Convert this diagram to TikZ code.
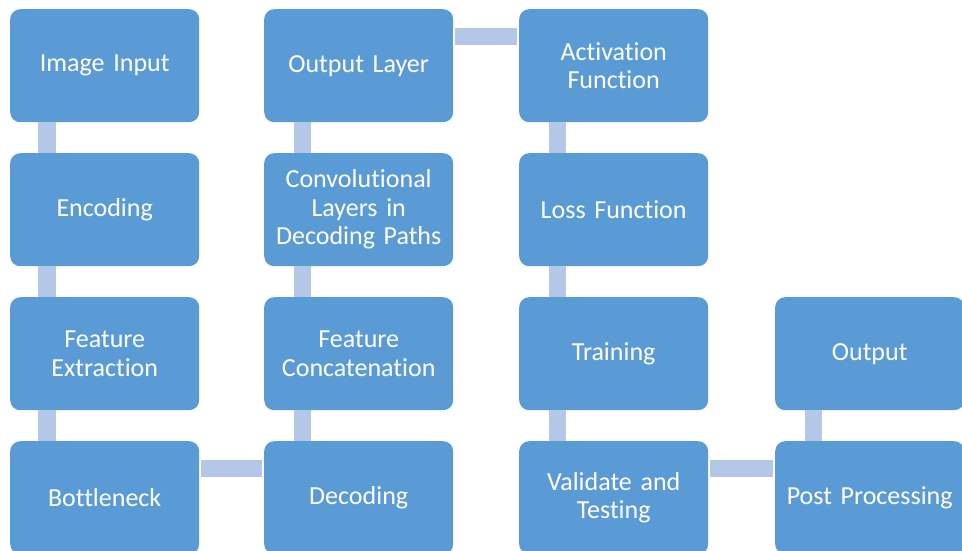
\documentclass[tikz,border=0pt]{standalone}
\usepackage{fontspec}
\setmainfont{Carlito}[Ligatures=NoCommon]
\definecolor{boxblue}{HTML}{5B9BD5}
\definecolor{linkblue}{HTML}{B4C7E7}
\begin{document}
\begin{tikzpicture}[x=1pt,y=-1pt,
  stage/.style={fill=boxblue, rounded corners=10pt, anchor=north west,
    inner sep=0pt, text width=189pt, minimum height=113pt, align=center,
    text=white, font=\fontsize{26}{28.5}\selectfont},
  link/.style={draw=linkblue, line width=17.5pt}]
\useasboundingbox (0,0) rectangle (962,551);

% column 1
\node[stage] (img)  at (10,9)   {Image Input};
\node[stage] (enc)  at (10,153) {Encoding};
\node[stage] (feat) at (10,297) {Feature\\Extraction};
\node[stage] (bott) at (10,441) {Bottleneck};
% column 2
\node[stage] (out)  at (264,9)   {Output Layer};
\node[stage] (conv) at (264,153) {Convolutional\\Layers in\\Decoding Paths};
\node[stage] (cat)  at (264,297) {Feature\\Concatenation};
\node[stage] (dec)  at (264,441) {Decoding};
% column 3
\node[stage] (act)  at (519,9)   {Activation\\Function};
\node[stage] (loss) at (519,153) {Loss Function};
\node[stage] (train) at (519,297) {Training};
\node[stage] (val)  at (519,441) {Validate and\\Testing};
% column 4
\node[stage] (res)  at (775,297) {Output};
\node[stage] (post) at (775,441) {Post Processing};

% vertical links
\foreach \a/\b in {img/enc, enc/feat, feat/bott} {
  \draw[link] ([xshift=37pt]\a.south west) -- ([xshift=37pt]\b.north west);
}
\foreach \a/\b in {out/conv, conv/cat, cat/dec, act/loss, loss/train, train/val, res/post} {
  \draw[link] ([xshift=38.5pt]\a.south west) -- ([xshift=38.5pt]\b.north west);
}
% horizontal links
\foreach \a/\b in {bott/dec, out/act, val/post} {
  \draw[link] ([xshift=2pt,yshift=-27.5pt]\a.north east) -- ([xshift=-2pt,yshift=-27.5pt]\b.north west);
}
\end{tikzpicture}
\end{document}
